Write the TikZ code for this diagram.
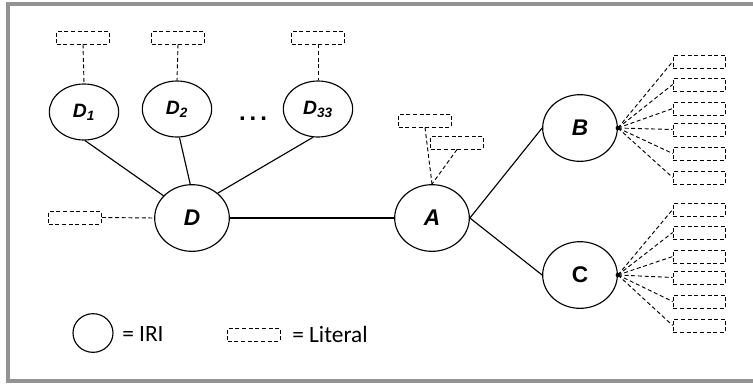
\documentclass[tikz,border=0pt]{standalone}
\usepackage{fontspec}
\setmainfont{Liberation Sans}
\newfontfamily\legfont{Carlito}
\usetikzlibrary{shapes.geometric}
\begin{document}
\begin{tikzpicture}[x=0.75pt,y=-0.75pt,
  iri/.style={ellipse,draw,line width=0.85pt,minimum width=56pt,minimum height=50pt,inner sep=0pt,font=\fontsize{17}{17}\selectfont\bfseries\itshape},
  iris/.style={ellipse,draw,line width=0.85pt,minimum width=52pt,minimum height=42pt,inner sep=0pt,font=\fontsize{14.5}{14.5}\selectfont\bfseries\itshape},
  lit/.style={rectangle,draw,line width=0.7pt,dash pattern=on 3pt off 2pt,minimum width=39.5pt,minimum height=9.75pt,inner sep=0pt},
  dl/.style={line width=0.7pt,dash pattern=on 3pt off 2pt},
  sl/.style={line width=0.85pt},
  leg/.style={font=\legfont\fontsize{17.5}{17.5}\selectfont,inner sep=0pt,anchor=west}]
\useasboundingbox (0,0) rectangle (753,383);
\draw[line width=2.4pt,gray!85] (8,4) rectangle (765,381);
% main nodes
\node[iri] (D) at (192,218) {D};
\node[iri] (A) at (432,218) {A};
\node[iri] (B) at (580,128) {B};
\node[iri,font=\fontsize{17}{17}\selectfont\bfseries] (C) at (580,275) {C};
\node[iris] (D1) at (84,112) {D\textsubscript{1}};
\node[iris] (D2) at (177,109) {D\textsubscript{2}};
\node[iris] (D33) at (318,109) {D\textsubscript{33}};
\node[font=\fontsize{18}{18}\selectfont\bfseries,inner sep=0pt] (dots) at (253,119) {.\hspace{3pt}.\hspace{3pt}.};
% literals
\node[lit] (L1) at (83,37.5) {};
\node[lit] (L2) at (178,37.5) {};
\node[lit] (L3) at (318,37.5) {};
\node[lit] (LD) at (75,217.5) {};
\node[lit] (LA1) at (425,120.5) {};
\node[lit] (LA2) at (457,142.5) {};
\draw[dl] (L1.south) -- (D1.north);
\draw[dl] (L2.south) -- (D2.north);
\draw[dl] (L3.south) -- (D33.north);
\draw[dl] (LD.east) -- (D.west);
\draw[dl] (LA1.south) -- (A.north);
\draw[dl] (LA2.south) -- (A.north);
% solid edges
\draw[sl] (D1.-88) -- (D.142);
\draw[sl] (D2.-85) -- (D.93);
\draw[sl] (D33.-100) -- (D.44);
\draw[sl] (D.east) -- (A.west);
\draw[sl] (A.east) -- (B.west);
\draw[sl] (A.east) -- (C.west);
% fans
\coordinate (Bd) at (B.east);
\coordinate (Cd) at (C.east);
\fill (Bd) circle (1.7pt);
\fill (Cd) circle (1.7pt);
\foreach \i/\y in {1/61.5,2/84.5,3/108.5,4/129.5,5/153.5,6/177.5}{
  \node[lit] (B\i) at (699.5,\y) {};
  \draw[dl] (Bd) -- (B\i.west);
}
\foreach \i/\y in {1/209.5,2/232.5,3/256.5,4/277.5,5/301.5,6/325.5}{
  \node[lit] (C\i) at (699.5,\y) {};
  \draw[dl] (Cd) -- (C\i.west);
}
% legend
\node[ellipse,draw,line width=0.85pt,minimum width=30pt,minimum height=29pt,inner sep=0pt] (legI) at (93,333) {};
\node[leg] (legIt) at (122,334) {= IRI};
\node[lit,line width=0.6pt] (legL) at (254,334.5) {};
\node[leg] (legLt) at (292,334) {= Literal};
\end{tikzpicture}
\end{document}
